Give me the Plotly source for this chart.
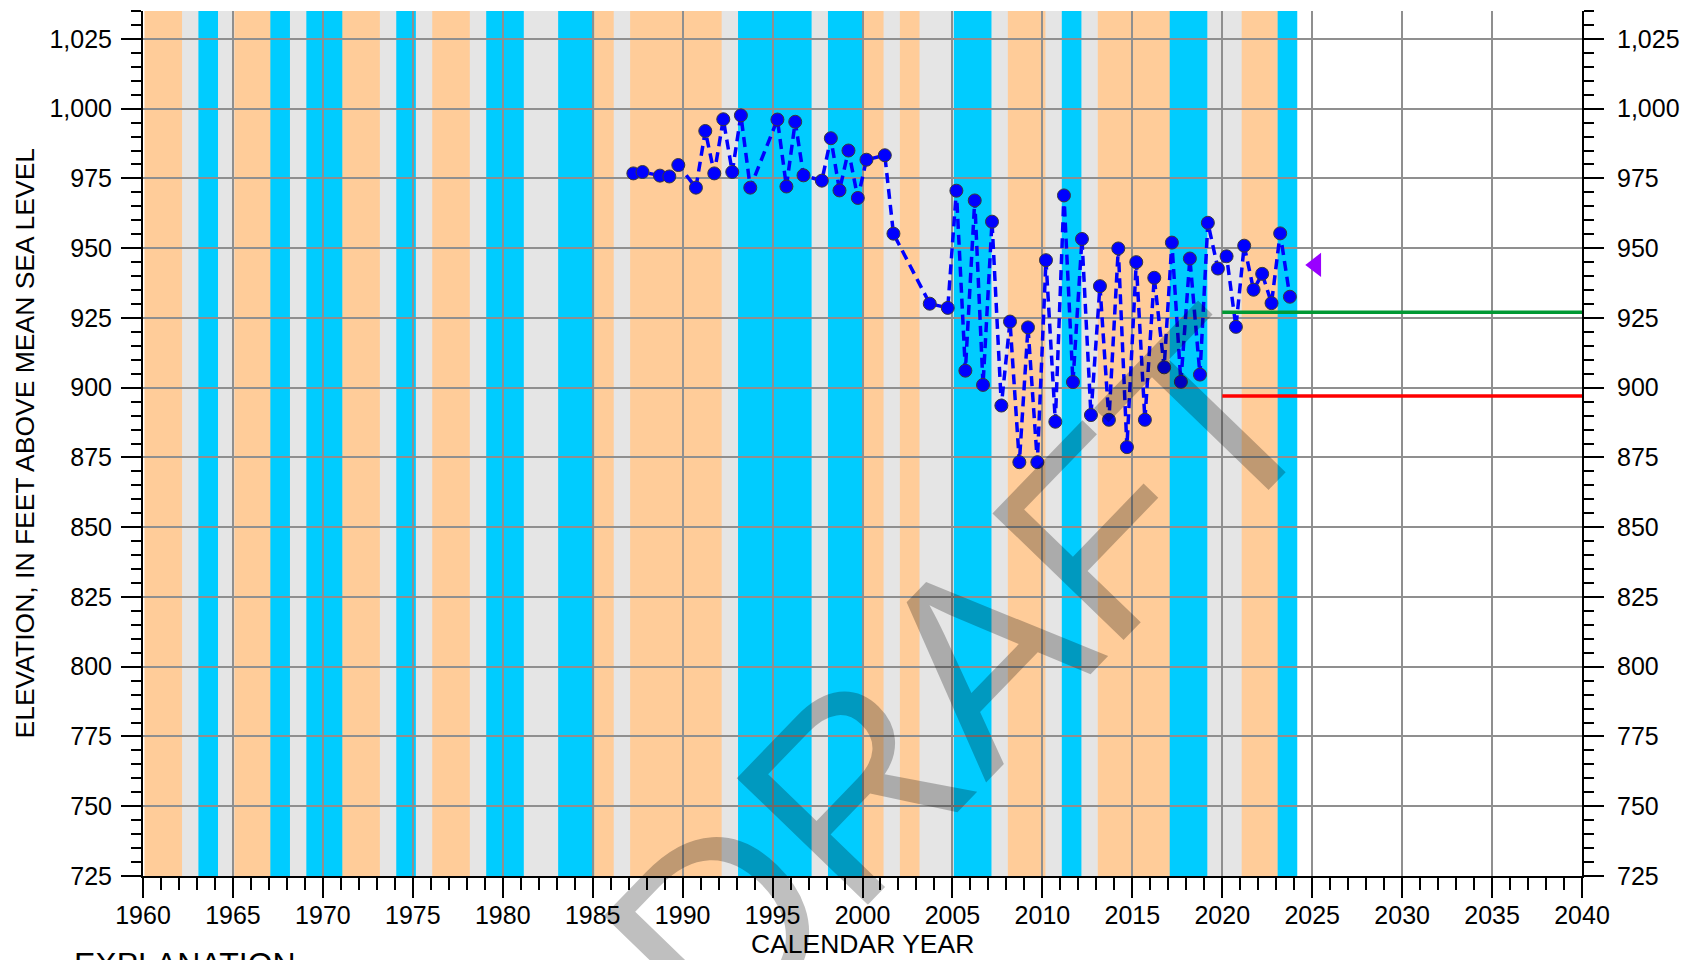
import plotly.graph_objects as go

# Measured water levels (decimal calendar year, feet above mean sea level)
obs_year = [
    1987.26, 1987.77, 1988.74, 1989.26, 1989.76, 1990.74, 1991.26, 1991.76,
    1992.26, 1992.76, 1993.24, 1993.76, 1995.27, 1995.77, 1996.26, 1996.72,
    1997.74, 1998.24, 1998.72, 1999.22, 1999.74, 2000.22, 2001.24, 2001.72,
    2003.74, 2004.74, 2005.22, 2005.72, 2006.24, 2006.70, 2007.20, 2007.72,
    2008.20, 2008.72, 2009.20, 2009.72, 2010.20, 2010.72, 2011.20, 2011.70,
    2012.20, 2012.70, 2013.20, 2013.70, 2014.22, 2014.70, 2015.22, 2015.70,
    2016.22, 2016.77, 2017.20, 2017.70, 2018.20, 2018.76, 2019.20, 2019.76,
    2020.24, 2020.76, 2021.22, 2021.74, 2022.22, 2022.74, 2023.22, 2023.76,
]
obs_elev = [
    976.8, 977.3, 976.0, 975.7, 979.8, 971.7, 992.0, 976.8,
    996.2, 977.3, 997.6, 971.7, 996.1, 972.1, 995.3, 976.1,
    974.2, 989.4, 970.7, 985.0, 968.0, 981.7, 983.3, 955.2,
    930.1, 928.6, 970.6, 906.1, 967.1, 901.0, 959.5, 893.6,
    923.7, 873.3, 921.6, 873.3, 945.7, 887.8, 968.9, 902.0,
    953.3, 890.2, 936.4, 888.5, 949.9, 878.7, 945.0, 888.5,
    939.4, 907.3, 952.0, 902.1, 946.3, 904.7, 959.1, 942.7,
    947.1, 921.8, 950.9, 935.1, 940.8, 930.3, 955.3, 932.6,
]

# Water-year type periods: start year, end year, type
period_start = [1960, 1962, 1963, 1964, 1965, 1967, 1968, 1969, 1971, 1973,
                1974, 1975, 1976, 1978, 1979, 1981, 1983, 1985, 1986, 1987,
                1992, 1993, 1997, 1998, 2000, 2001, 2002, 2003, 2005, 2007,
                2008, 2010, 2011, 2012, 2013, 2017, 2019, 2021, 2023]
period_end = [1962, 1963, 1964, 1965, 1967, 1968, 1969, 1971, 1973, 1974,
              1975, 1976, 1978, 1979, 1981, 1983, 1985, 1986, 1987, 1992,
              1993, 1997, 1998, 2000, 2001, 2002, 2003, 2005, 2007, 2008,
              2010, 2011, 2012, 2013, 2017, 2019, 2021, 2023, 2024]
period_type = ["dry", "normal", "wet", "normal", "dry", "wet", "normal", "wet",
               "dry", "normal", "wet", "normal", "dry", "normal", "wet",
               "normal", "wet", "dry", "normal", "dry", "normal", "wet",
               "normal", "wet", "dry", "normal", "dry", "normal", "wet",
               "normal", "dry", "normal", "wet", "normal", "dry", "wet",
               "normal", "dry", "wet"]
period_color = {"dry": "#FFCC99", "normal": "#E5E5E5", "wet": "#00CCFF"}

# Threshold levels over the planning period
upper_level = 927.0
lower_level = 897.0
threshold_years = [2020, 2040]

# Current target level
target_year = [2025.2]
target_elev = [944.0]

X_RANGE = [1960, 2040]
Y_RANGE = [725, 1035]

W, H = 1691, 960
ML, MR, MT, MB = 143, 109, 11, 84
PW, PH = W - ML - MR, H - MT - MB


def px_x(p):
    return (p - ML) / PW


def px_y(p):
    return (H - MB - p) / PH


FONT = "Arial, Liberation Sans, sans-serif"

fig = go.Figure()

# Background periods (normal first, coloured periods on top)
shapes = []
for kind_pass in ("normal", "colored"):
    for s, e, t in zip(period_start, period_end, period_type):
        if (t == "normal") != (kind_pass == "normal"):
            continue
        x0 = max(s + 0.08, X_RANGE[0])
        x1 = e + 0.17
        shapes.append(dict(type="rect", xref="x", yref="paper", x0=x0, x1=x1,
                           y0=0, y1=1, fillcolor=period_color[t],
                           line=dict(width=0), layer="below"))

# Water level record
fig.add_trace(go.Scatter(
    x=obs_year, y=obs_elev, mode="lines+markers",
    line=dict(color="#0000FF", width=3.5, dash="10px,6px"),
    marker=dict(size=13, color="#0000FF", line=dict(color="#3a3a3a", width=1)),
    showlegend=False, hoverinfo="skip", cliponaxis=False,
))

# Threshold lines (drawn on the right-hand axis, same scale)
fig.add_trace(go.Scatter(
    x=threshold_years, y=[upper_level, upper_level], mode="lines",
    line=dict(color="#009933", width=3.5), yaxis="y2", showlegend=False,
    hoverinfo="skip",
))
fig.add_trace(go.Scatter(
    x=threshold_years, y=[lower_level, lower_level], mode="lines",
    line=dict(color="#FF0000", width=3.5), yaxis="y2", showlegend=False,
    hoverinfo="skip",
))
fig.add_trace(go.Scatter(
    x=target_year, y=target_elev, mode="markers",
    marker=dict(symbol="triangle-left", size=21, color="#9900FF"),
    showlegend=False, hoverinfo="skip",
))

axis_common = dict(
    showline=True, linecolor="black", linewidth=2,
    ticks="outside", tickcolor="black", tickwidth=2, ticklen=20,
    tickfont=dict(family=FONT, size=25, color="black"),
    zeroline=False,
)

fig.update_layout(
    width=W, height=H,
    margin=dict(l=ML, r=MR, t=MT, b=MB, pad=0),
    paper_bgcolor="white", plot_bgcolor="white",
    shapes=shapes,
    xaxis=dict(
        range=X_RANGE, tick0=1960, dtick=5, tickformat="d",
        showgrid=True, gridcolor="#8f8f8f", gridwidth=1.5,
        minor=dict(dtick=1, ticks="outside", ticklen=12, tickwidth=2,
                   tickcolor="black", showgrid=False),
        ticklabelstandoff=-4,
        **axis_common,
    ),
    yaxis=dict(
        range=Y_RANGE, tick0=725, dtick=25, tickformat=",",
        showgrid=True, gridcolor="#8f8f8f", gridwidth=1.5,
        minor=dict(dtick=5, ticks="outside", ticklen=10, tickwidth=2,
                   tickcolor="black", showgrid=False),
        ticklabelstandoff=4,
        **axis_common,
    ),
    yaxis2=dict(
        range=Y_RANGE, tick0=725, dtick=25, tickformat=",",
        overlaying="y", side="right", showgrid=False,
        minor=dict(dtick=5, ticks="outside", ticklen=10, tickwidth=2,
                   tickcolor="black", showgrid=False),
        ticklabelstandoff=8,
        **axis_common,
    ),
    annotations=[
        dict(text="ELEVATION, IN FEET ABOVE MEAN SEA LEVEL", xref="paper",
             yref="paper", x=px_x(24), y=px_y(443.5), textangle=-90,
             showarrow=False, xanchor="center", yanchor="middle",
             font=dict(family=FONT, size=26.5, color="black")),
        dict(text="CALENDAR YEAR", xref="paper", yref="paper",
             x=px_x(862), y=px_y(944), showarrow=False,
             xanchor="center", yanchor="middle",
             font=dict(family=FONT, size=26.5, color="black")),
        dict(text="EXPLANATION", xref="paper", yref="paper",
             x=px_x(72), y=px_y(944), showarrow=False,
             xanchor="left", yanchor="top",
             font=dict(family=FONT, size=32, color="black")),
        dict(text="DRAFT", xref="paper", yref="paper",
             x=px_x(960), y=px_y(677), showarrow=False,
             xanchor="center", yanchor="middle", textangle=-46,
             font=dict(family=FONT, size=265, color="rgba(0,0,0,0.25)")),
    ],
)

fig.write_html("out.html")
